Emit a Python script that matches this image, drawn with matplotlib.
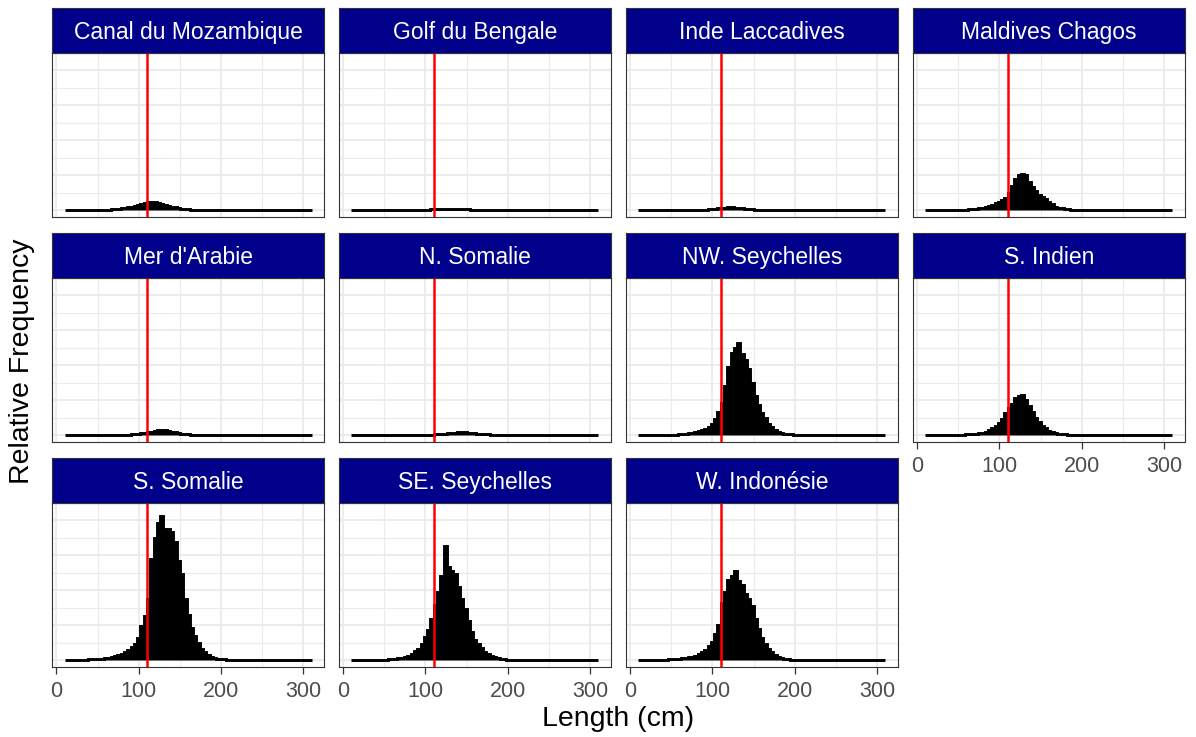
import numpy as np
import matplotlib
matplotlib.use("Agg")
import matplotlib.pyplot as plt

plt.rcParams['font.family'] = ['Liberation Sans', 'DejaVu Sans']

# ---- data -------------------------------------------------------------
regions = ["Canal du Mozambique", "Golf du Bengale", "Inde Laccadives",
           "Maldives Chagos", "Mer d'Arabie", "N. Somalie", "NW. Seychelles",
           "S. Indien", "S. Somalie", "SE. Seychelles", "W. Indonésie"]

bin_width = 4                                   # cm
bin_edges = np.arange(10, 311, bin_width)       # 10 ... 310 cm length classes
threshold = 110                                 # reference length (cm)

# relative frequencies per length class; each series starts at the class
# centred on the given length (cm), classes outside the run are empty
canal_mozambique_from = 60
canal_mozambique = [0.0001, 0.0001, 0.0002, 0.0003, 0.0004, 0.0005, 0.0006, 0.0008,
                    0.0010, 0.0012, 0.0014, 0.0016, 0.0019, 0.0023, 0.0024, 0.0022,
                    0.0020, 0.0018, 0.0014, 0.0012, 0.0010, 0.0008, 0.0006, 0.0004,
                    0.0003, 0.0002, 0.0001]

golf_bengale_from = 100
golf_bengale = [0.0001, 0.0001, 0.0002, 0.0002, 0.0003, 0.0003, 0.0004, 0.0004,
                0.0004, 0.0004, 0.0003, 0.0003, 0.0002, 0.0002, 0.0001, 0.0001]

inde_laccadives_from = 88
inde_laccadives = [0.0001, 0.0001, 0.0002, 0.0003, 0.0004, 0.0005, 0.0006, 0.0007,
                   0.0008, 0.0008, 0.0007, 0.0006, 0.0005, 0.0004, 0.0003, 0.0002,
                   0.0001, 0.0001]

maldives_chagos_from = 56
maldives_chagos = [0.0001, 0.0001, 0.0002, 0.0002, 0.0003, 0.0005, 0.0006, 0.0008,
                   0.0011, 0.0015, 0.0019, 0.0023, 0.0028, 0.0035, 0.0050, 0.0070,
                   0.0090, 0.0100, 0.0103, 0.0100, 0.0080, 0.0065, 0.0055, 0.0044,
                   0.0037, 0.0032, 0.0022, 0.0016, 0.0010, 0.0007, 0.0005, 0.0003,
                   0.0002, 0.0001]

mer_arabie_from = 84
mer_arabie = [0.0001, 0.0001, 0.0002, 0.0003, 0.0004, 0.0005, 0.0006, 0.0008,
              0.0010, 0.0013, 0.0015, 0.0015, 0.0014, 0.0012, 0.0010, 0.0008,
              0.0006, 0.0004, 0.0003, 0.0002, 0.0001, 0.0001]

n_somalie_from = 104
n_somalie = [0.0001, 0.0001, 0.0002, 0.0002, 0.0003, 0.0004, 0.0005, 0.0006,
             0.0007, 0.0008, 0.0008, 0.0008, 0.0007, 0.0006, 0.0005, 0.0004,
             0.0003, 0.0002, 0.0002, 0.0001, 0.0001]

nw_seychelles_from = 56
nw_seychelles = [0.0001, 0.0002, 0.0003, 0.0004, 0.0005, 0.0007, 0.0009, 0.0011,
                 0.0014, 0.0017, 0.0024, 0.0033, 0.0046, 0.0065, 0.0092, 0.0140,
                 0.0195, 0.0235, 0.0250, 0.0263, 0.0232, 0.0215, 0.0190, 0.0150,
                 0.0113, 0.0085, 0.0062, 0.0048, 0.0033, 0.0024, 0.0015, 0.0010,
                 0.0006, 0.0004, 0.0003, 0.0002, 0.0001]

s_indien_from = 52
s_indien = [0.0001, 0.0001, 0.0002, 0.0002, 0.0003, 0.0004, 0.0005, 0.0007,
            0.0010, 0.0015, 0.0020, 0.0026, 0.0034, 0.0045, 0.0062, 0.0076,
            0.0090, 0.0105, 0.0112, 0.0115, 0.0100, 0.0082, 0.0066, 0.0049,
            0.0036, 0.0027, 0.0019, 0.0013, 0.0009, 0.0006, 0.0004, 0.0003,
            0.0002, 0.0001]

s_somalie_from = 28
s_somalie = [0.0001, 0.0001, 0.0001, 0.0002, 0.0002, 0.0003, 0.0003, 0.0004,
             0.0005, 0.0007, 0.0009, 0.0011, 0.0014, 0.0018, 0.0022, 0.0028,
             0.0036, 0.0045, 0.0062, 0.0098, 0.0126, 0.0176, 0.0290, 0.0350,
             0.0392, 0.0413, 0.0374, 0.0374, 0.0365, 0.0337, 0.0283, 0.0246,
             0.0174, 0.0128, 0.0092, 0.0070, 0.0050, 0.0032, 0.0022, 0.0014,
             0.0009, 0.0006, 0.0004, 0.0003, 0.0002, 0.0001, 0.0001]

se_seychelles_from = 48
se_seychelles = [0.0001, 0.0001, 0.0002, 0.0002, 0.0003, 0.0005, 0.0007, 0.0009,
                 0.0013, 0.0018, 0.0025, 0.0032, 0.0045, 0.0065, 0.0085, 0.0118,
                 0.0158, 0.0195, 0.0240, 0.0327, 0.0265, 0.0255, 0.0245, 0.0208,
                 0.0176, 0.0145, 0.0113, 0.0081, 0.0058, 0.0045, 0.0035, 0.0024,
                 0.0016, 0.0011, 0.0008, 0.0005, 0.0003, 0.0002, 0.0001]

w_indonesie_from = 48
w_indonesie = [0.0002, 0.0003, 0.0003, 0.0004, 0.0005, 0.0006, 0.0008, 0.0010,
               0.0013, 0.0017, 0.0022, 0.0030, 0.0040, 0.0052, 0.0075, 0.0100,
               0.0163, 0.0195, 0.0230, 0.0240, 0.0255, 0.0225, 0.0215, 0.0190,
               0.0175, 0.0155, 0.0117, 0.0090, 0.0063, 0.0045, 0.0031, 0.0024,
               0.0014, 0.0009, 0.0006, 0.0004, 0.0002, 0.0001]

series = [(canal_mozambique_from, canal_mozambique),
          (golf_bengale_from, golf_bengale),
          (inde_laccadives_from, inde_laccadives),
          (maldives_chagos_from, maldives_chagos),
          (mer_arabie_from, mer_arabie),
          (n_somalie_from, n_somalie),
          (nw_seychelles_from, nw_seychelles),
          (s_indien_from, s_indien),
          (s_somalie_from, s_somalie),
          (se_seychelles_from, se_seychelles),
          (w_indonesie_from, w_indonesie)]


def full_classes(first_centre, values):
    """Place a run of frequencies into the complete set of length classes."""
    freq = np.zeros(len(bin_edges) - 1)
    i0 = int((first_centre - (bin_edges[0] + bin_width / 2)) // bin_width)
    freq[i0:i0 + len(values)] = values
    return freq


freqs = [full_classes(start, vals) for start, vals in series]
ymax = max(f.max() for f in freqs)

# ---- layout (pixel geometry of the facet grid) --------------------------
W, H = 1196, 737
fig = plt.figure(figsize=(W / 100, H / 100), dpi=100)
fig.patch.set_facecolor('white')

col_left = [52.3, 339.0, 626.0, 913.0]
panel_w = 271.7
strip_top = [8.3, 233.3, 458.3]
strip_h = 44.4
panel_h = 164.6


def rect(x, y_top, w, h):
    return [x / W, 1 - (y_top + h) / H, w / W, h / H]


ncol = 4
n = len(regions)
for k, (name, freq) in enumerate(zip(regions, freqs)):
    r, c = divmod(k, ncol)
    x0 = col_left[c]
    st = strip_top[r]

    ax = fig.add_axes(rect(x0, st + strip_h, panel_w, panel_h))
    ax.set_facecolor('white')
    # outlined histogram: the outline also traces the empty classes as a baseline
    ax.stairs(freq, bin_edges, fill=True, facecolor='black', edgecolor='black',
              linewidth=2.1, zorder=2)
    ax.axvline(threshold, color='#FF0000', lw=1.8, zorder=3)

    ax.set_xlim(-5, 325)
    ax.set_ylim(-0.05 * ymax, 1.05 * ymax)
    ax.set_xticks([0, 100, 200, 300])
    ax.set_xticks([50, 150, 250], minor=True)
    ax.set_yticks(np.arange(0, 0.0451, 0.01))
    ax.set_yticks(np.arange(0.005, 0.0451, 0.01), minor=True)
    ax.grid(which='major', color='#EBEBEB', lw=1.3)
    ax.grid(which='minor', color='#EBEBEB', lw=0.8)
    ax.set_axisbelow(True)
    for sp in ax.spines.values():
        sp.set_color('#333333')
        sp.set_linewidth(0.8)

    ax.tick_params(axis='y', which='both', length=0, labelleft=False)
    ax.tick_params(axis='x', which='minor', length=0)
    bottom_of_column = (k + ncol >= n)
    if bottom_of_column:
        ax.tick_params(axis='x', which='major', length=5, width=0.9,
                       color='#333333', labelsize=15.5, labelcolor='#4D4D4D',
                       pad=5)
    else:
        ax.tick_params(axis='x', which='major', length=0, labelbottom=False)

    # facet strip
    sax = fig.add_axes(rect(x0, st, panel_w, strip_h))
    sax.set_facecolor('#00008B')
    sax.set_xticks([])
    sax.set_yticks([])
    for sp in sax.spines.values():
        sp.set_color('#333333')
        sp.set_linewidth(0.8)
    sax.text(0.5, 0.30, name, transform=sax.transAxes, ha='center',
             va='baseline', color='white', fontsize=16.5)

fig.text(618.5 / W, 1 - 719 / H, 'Length (cm)', ha='center', va='center',
         fontsize=20.5, color='black')
fig.text(22 / W, 1 - 361 / H, 'Relative Frequency', ha='center', va='center',
         rotation=90, fontsize=20.5, color='black')

fig.savefig('out.png', dpi=100, facecolor='white')
